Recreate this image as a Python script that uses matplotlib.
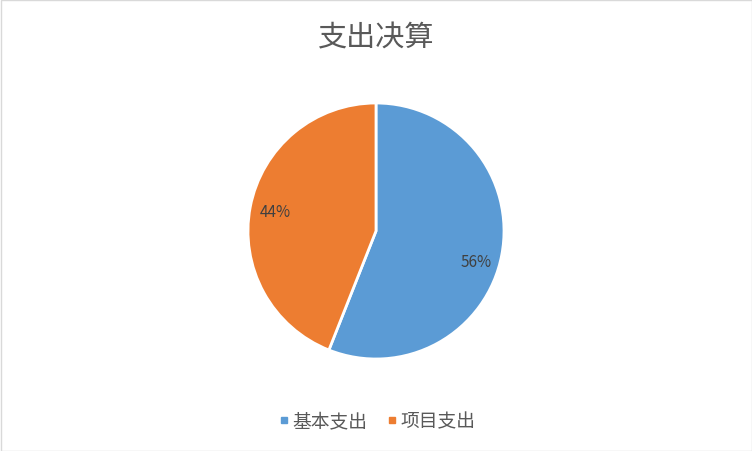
import matplotlib
matplotlib.use("Agg")
import matplotlib.pyplot as plt
from matplotlib.patches import Rectangle
from matplotlib.lines import Line2D

plt.rcParams['font.family'] = ['Noto Sans CJK SC', 'DejaVu Sans']

title = "支出决算"
categories = ["基本支出", "项目支出"]
values = [56, 44]
colors = ["#5B9BD5", "#ED7D31"]

fig = plt.figure(figsize=(7.52, 4.52), dpi=100)
fig.patches.append(Rectangle((0.5/752, 0.5/452), 1 - 1/752, 1 - 1/452, transform=fig.transFigure,
                             fill=False, edgecolor="#D9D9D9", linewidth=1))

# pie axes: center (376,232) radius 128 px
r = 128
cx, cy = 376, 452 - 232
ax = fig.add_axes([(cx - r) / 752, (cy - r) / 452, 2 * r / 752, 2 * r / 452])
wedges, texts, autotexts = ax.pie(values, colors=colors, startangle=90, counterclock=False,
                                  autopct='%d%%', pctdistance=0.8,
                                  wedgeprops=dict(edgecolor="white", linewidth=2),
                                  textprops=dict(color="#404040", fontsize=11))
ax.set_aspect('equal')
ax.set_xlim(-1, 1)
ax.set_ylim(-1, 1)
autotexts[0].set_position((0.78, -0.24))

fig.text(0.5, 1 - 38 / 452, title, ha='center', va='center', fontsize=21, color="#595959")

handles = [Line2D([0], [0], marker='s', linestyle='none', markersize=5,
                  markerfacecolor=c, markeredgecolor=c) for c in colors]
fig.legend(handles, categories, loc='center', bbox_to_anchor=(0.5, 1 - 422 / 452),
           ncol=2, frameon=False, fontsize=13.5, labelcolor="#595959",
           handletextpad=0.05, columnspacing=0.9, handlelength=0.8)

fig.savefig("out.png", dpi=100)
